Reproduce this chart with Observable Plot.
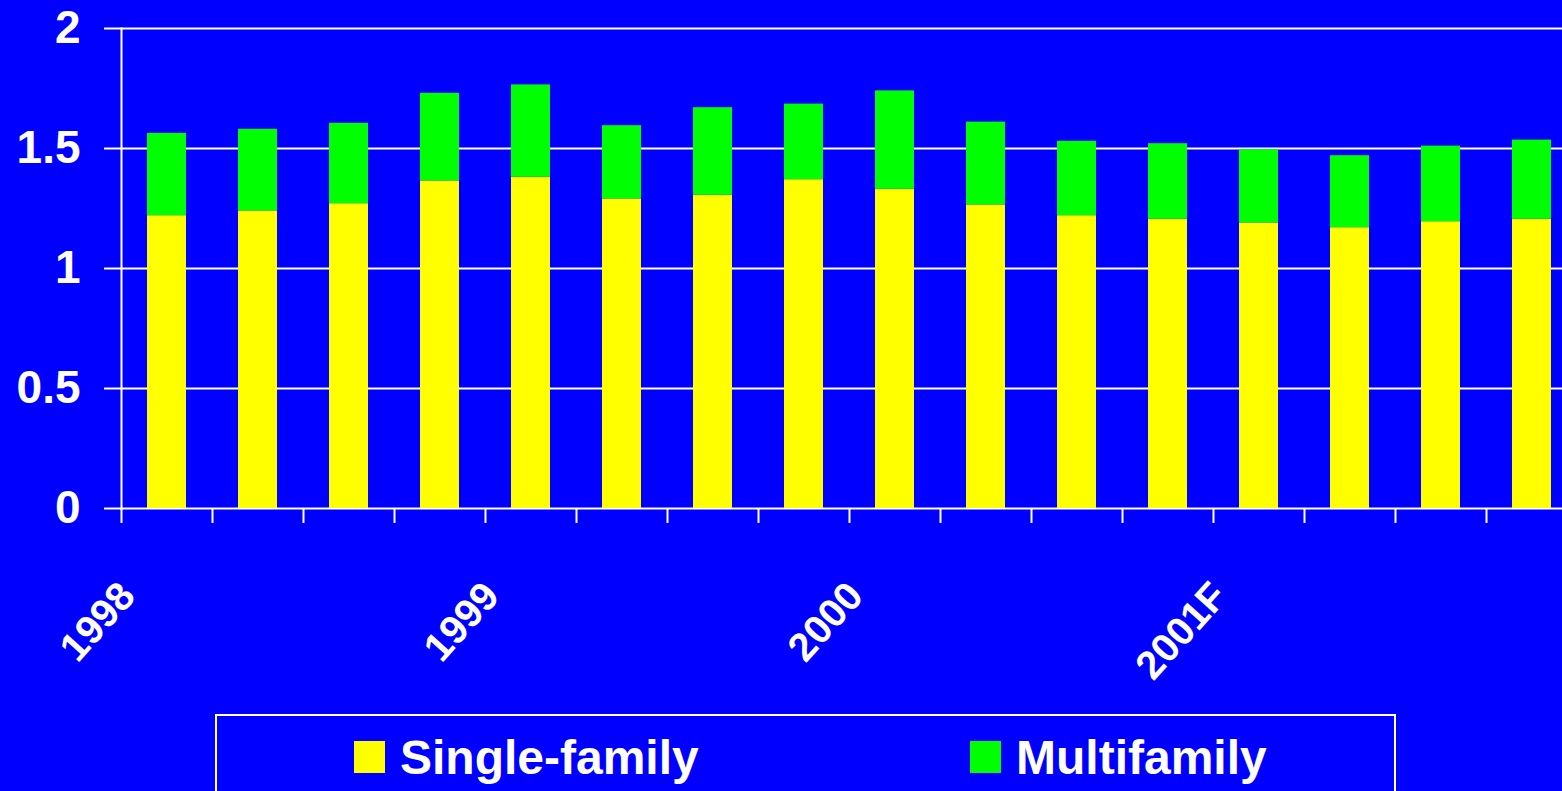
<!DOCTYPE html>
<html>
<head>
<meta charset="utf-8">
<script src="https://cdn.jsdelivr.net/npm/d3@7"></script>
<script src="https://cdn.jsdelivr.net/npm/@observablehq/plot@0.6"></script>
<style>
  html, body { margin: 0; padding: 0; background: #0000ff; overflow: hidden; width: 1562px; height: 791px; }
  #wrap { position: relative; width: 1562px; height: 791px; overflow: hidden; }
  #chart svg { display: block; max-width: none !important; }
  #legend { position: absolute; left: 215px; top: 714px; width: 1181px; height: 77px; border: 2px solid #ffffff; border-bottom: none; box-sizing: border-box; font-family: "Liberation Sans", Arial, sans-serif; font-weight: bold; color: #ffffff; font-size: 48px; line-height: 48px; }
  .sw { position: absolute; top: 25px; width: 31px; height: 32px; }
  .lt { position: absolute; top: 18px; white-space: nowrap; }
</style>
</head>
<body>
<div id="wrap">
  <div id="chart"></div>
  <div id="legend"></div>
</div>
<script>
const quarters = ["1998 Q1","1998 Q2","1998 Q3","1998 Q4","1999 Q1","1999 Q2","1999 Q3","1999 Q4","2000 Q1","2000 Q2","2000 Q3","2000 Q4","2001 Q1","2001 Q2","2001 Q3","2001 Q4"];
const singleFamily = [1.22, 1.24, 1.27, 1.365, 1.38, 1.29, 1.305, 1.37, 1.33, 1.265, 1.22, 1.205, 1.19, 1.17, 1.195, 1.205];
const multifamily  = [0.343, 0.34, 0.335, 0.365, 0.385, 0.305, 0.365, 0.315, 0.41, 0.345, 0.31, 0.315, 0.305, 0.30, 0.315, 0.33];
const yearTicks = ["1998 Q1","1999 Q1","2000 Q1","2001 Q1"];
const yearLabels = ["1998","1999","2000","2001F"];
const yTicks = [0, 0.5, 1, 1.5, 2];
const series = ["Single-family","Multifamily"];
const colors = ["#ffff00","#00ff00"];

const data = quarters.flatMap((q, i) => [
  {q, type: series[0], v: singleFamily[i]},
  {q, type: series[1], v: multifamily[i]}
]);

const W = 1577, H = 705;
const chart = Plot.plot({
  width: W, height: H,
  marginLeft: 121, marginRight: 0, marginTop: 28, marginBottom: H - 508,
  style: {background: "#0000ff", color: "#ffffff", fontFamily: "'Liberation Sans', Arial, sans-serif", fontWeight: "bold", overflow: "visible", maxWidth: "none"},
  x: {domain: quarters, paddingInner: 0.57, paddingOuter: 0.285, axis: null},
  y: {domain: [0, 2], axis: null},
  color: {domain: series, range: colors},
  marks: [
    Plot.gridY(yTicks, {stroke: "#ffffff", strokeOpacity: 1, strokeWidth: 2}),
    Plot.barY(data, {x: "q", y: "v", fill: "type", order: series}),
    Plot.frame({anchor: "left", stroke: "#ffffff", strokeWidth: 2}),
    Plot.axisY(yTicks, {tickSize: 17, tickPadding: 24, fontSize: 46, stroke: "#ffffff", strokeWidth: 2, strokeOpacity: 1, fill: "#ffffff", tickFormat: d => String(d), label: null}),
    Plot.axisX(quarters, {tickSize: 15, stroke: "#ffffff", strokeWidth: 2, strokeOpacity: 1, fill: "none", dx: -45.5, label: null, tickFormat: () => ""}),
    Plot.axisX(yearTicks, {tickSize: 0, tickRotate: -48, tickPadding: 70, dx: -51, fontSize: 40, fill: "#ffffff", textAnchor: "end", lineAnchor: "top", label: null, tickFormat: d => yearLabels[yearTicks.indexOf(d)]})
  ]
});
document.getElementById("chart").appendChild(chart);

const legend = document.getElementById("legend");
const swLefts = [354 - 217, 970 - 217];
const txtLefts = [400 - 217, 1016 - 217];
series.forEach((s, i) => {
  const sw = document.createElement("div");
  sw.className = "sw";
  sw.style.left = swLefts[i] + "px";
  sw.style.background = colors[i];
  const t = document.createElement("span");
  t.className = "lt";
  t.style.left = txtLefts[i] + "px";
  t.textContent = s;
  legend.appendChild(sw);
  legend.appendChild(t);
});
</script>
</body>
</html>
